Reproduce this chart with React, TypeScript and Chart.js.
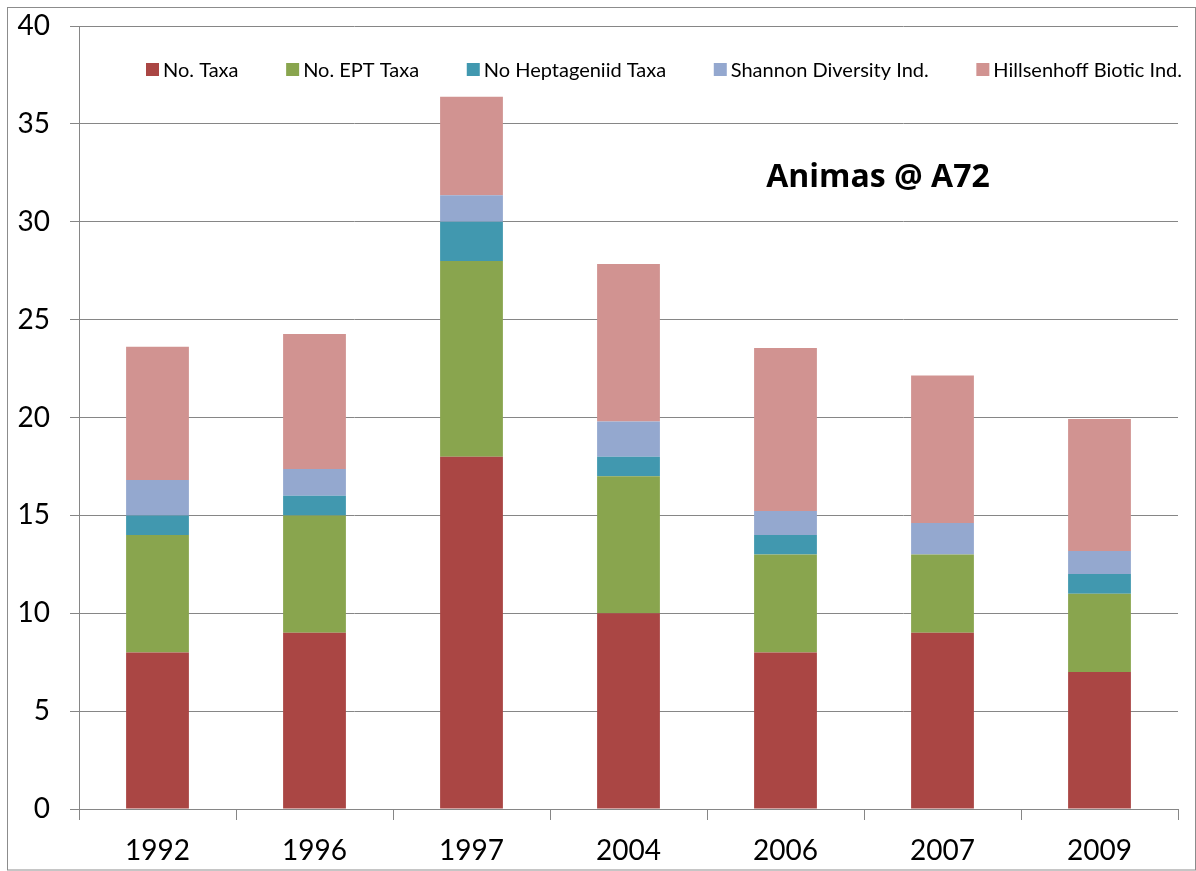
import React, { useEffect, useRef } from 'react';
import { Chart, registerables } from 'chart.js';

Chart.register(...registerables);

const years = ['1992', '1996', '1997', '2004', '2006', '2007', '2009'];
const noTaxa = [8, 9, 18, 10, 8, 9, 7];
const eptTaxa = [6, 6, 10, 7, 5, 4, 4];
const heptageniidTaxa = [1, 1, 2, 1, 1, 0, 1];
const shannonDiversity = [1.81, 1.37, 1.35, 1.79, 1.22, 1.61, 1.18];
const hillsenhoffBiotic = [6.81, 6.9, 5.04, 8.05, 8.33, 7.53, 6.74];

const seriesNames = ['No. Taxa', 'No. EPT Taxa', 'No Heptageniid Taxa', 'Shannon Diversity Ind.', 'Hillsenhoff Biotic Ind.'];
const seriesColors = ['#AA4644', '#89A54E', '#4198AF', '#94A8CF', '#D19391'];
const chartTitle = 'Animas @ A72';
const yMin = 0;
const yMax = 40;
const yStep = 5;

const FONT = 'Lato, "Liberation Sans", sans-serif';
const TITLE_FONT = '"Open Sans", Lato, sans-serif';
const GRID = '#868686';

const decorPlugin = {
  id: 'decor',
  afterDraw(chart: any) {
    const ctx = chart.ctx as CanvasRenderingContext2D;
    const W = chart.width;
    const H = chart.height;
    ctx.save();
    // outer border
    ctx.strokeStyle = '#8C8C8C';
    ctx.lineWidth = 1;
    ctx.strokeRect(7.5, 7.5, W - 8, H - 8.5);

    // title
    ctx.fillStyle = '#000';
    ctx.font = `bold 32px ${TITLE_FONT}`;
    ctx.textAlign = 'center';
    ctx.textBaseline = 'middle';
    ctx.fillText(chartTitle, 878, 178);

    // legend
    const datasets = chart.data.datasets;
    ctx.font = `20px ${FONT}`;
    const box = 13;
    const gapBoxText = 4;
    const widths = datasets.map((d: any) => box + gapBoxText + ctx.measureText(d.label).width);
    const left = 146;
    const right = 1182;
    const total = widths.reduce((a: number, b: number) => a + b, 0);
    const gap = (right - left - total) / (datasets.length - 1);
    let x = left;
    const cy = 70;
    ctx.textAlign = 'left';
    ctx.textBaseline = 'middle';
    datasets.forEach((d: any, i: number) => {
      ctx.fillStyle = d.backgroundColor;
      ctx.fillRect(x, cy - 7, box, box);
      ctx.fillStyle = '#000';
      ctx.fillText(d.label, x + box + gapBoxText, cy + 1);
      x += widths[i] + gap;
    });
    ctx.restore();
  },
};

export default function App() {
  const ref = useRef<HTMLCanvasElement | null>(null);

  useEffect(() => {
    document.body.style.margin = '0';
    const canvas = ref.current;
    if (!canvas) return;
    const seriesData = [noTaxa, eptTaxa, heptageniidTaxa, shannonDiversity, hillsenhoffBiotic];
    const chart = new Chart(canvas, {
      type: 'bar',
      data: {
        labels: years,
        datasets: seriesNames.map((name, i) => ({
          label: name,
          data: seriesData[i],
          backgroundColor: seriesColors[i],
          borderWidth: 0,
          barPercentage: 0.4,
          categoryPercentage: 1,
        })),
      },
      options: {
        animation: false,
        responsive: false,
        maintainAspectRatio: false,
        layout: { padding: { left: 0, right: 18, top: 26, bottom: 0 } },
        plugins: {
          legend: { display: false },
          title: { display: false },
          tooltip: { enabled: false },
        },
        scales: {
          x: {
            stacked: true,
            grid: {
              display: true,
              drawOnChartArea: false,
              drawTicks: true,
              tickLength: 11,
              color: GRID,
              offset: true,
            },
            border: { display: true, color: GRID },
            ticks: {
              color: '#000',
              font: { family: FONT, size: 28 },
              padding: 14,
              maxRotation: 0,
            },
            afterFit: (scale: any) => {
              scale.height = 62;
              scale.paddingLeft = 0;
              scale.paddingRight = 0;
            },
          },
          y: {
            stacked: true,
            min: yMin,
            max: yMax,
            grid: {
              color: GRID,
              tickLength: 9,
              drawTicks: true,
            },
            border: { display: true, color: GRID },
            ticks: {
              stepSize: yStep,
              color: '#000',
              font: { family: FONT, size: 28 },
              padding: 20,
            },
            afterFit: (scale: any) => {
              scale.width = 79;
              scale.paddingTop = 0;
              scale.paddingBottom = 0;
            },
          },
        },
      },
      plugins: [decorPlugin],
    });
    return () => chart.destroy();
  }, []);

  return (
    <div style={{ width: 1196, height: 871 }}>
      <canvas ref={ref} width={1196} height={871} style={{ display: 'block' }} />
    </div>
  );
}
